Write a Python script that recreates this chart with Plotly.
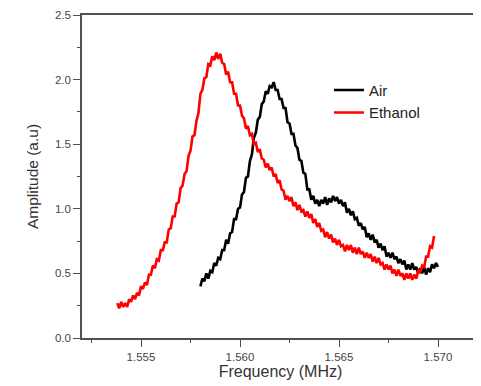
import plotly.graph_objects as go

# Frequency sweep (MHz) and amplitudes
freq_ethanol = [
    1.5538, 1.5539, 1.5540, 1.5541, 1.5542, 1.5543, 1.5544, 1.5545, 1.5546, 1.5547,
    1.5548, 1.5549, 1.5550, 1.5551, 1.5552, 1.5553, 1.5554, 1.5555, 1.5556, 1.5557,
    1.5558, 1.5559, 1.5560, 1.5561, 1.5562, 1.5563, 1.5564, 1.5565, 1.5566, 1.5567,
    1.5568, 1.5569, 1.5570, 1.5571, 1.5572, 1.5573, 1.5574, 1.5575, 1.5576, 1.5577,
    1.5578, 1.5579, 1.5580, 1.5581, 1.5582, 1.5583, 1.5584, 1.5585, 1.5586, 1.5587,
    1.5588, 1.5589, 1.5590, 1.5591, 1.5592, 1.5593, 1.5594, 1.5595, 1.5596, 1.5597,
    1.5598, 1.5599, 1.5600, 1.5601, 1.5602, 1.5603, 1.5604, 1.5605, 1.5606, 1.5607,
    1.5608, 1.5609, 1.5610, 1.5611, 1.5612, 1.5613, 1.5614, 1.5615, 1.5616, 1.5617,
    1.5618, 1.5619, 1.5620, 1.5621, 1.5622, 1.5623, 1.5624, 1.5625, 1.5626, 1.5627,
    1.5628, 1.5629, 1.5630, 1.5631, 1.5632, 1.5633, 1.5634, 1.5635, 1.5636, 1.5637,
    1.5638, 1.5639, 1.5640, 1.5641, 1.5642, 1.5643, 1.5644, 1.5645, 1.5646, 1.5647,
    1.5648, 1.5649, 1.5650, 1.5651, 1.5652, 1.5653, 1.5654, 1.5655, 1.5656, 1.5657,
    1.5658, 1.5659, 1.5660, 1.5661, 1.5662, 1.5663, 1.5664, 1.5665, 1.5666, 1.5667,
    1.5668, 1.5669, 1.5670, 1.5671, 1.5672, 1.5673, 1.5674, 1.5675, 1.5676, 1.5677,
    1.5678, 1.5679, 1.5680, 1.5681, 1.5682, 1.5683, 1.5684, 1.5685, 1.5686, 1.5687,
    1.5688, 1.5689, 1.5690, 1.5691, 1.5692, 1.5693, 1.5694, 1.5695, 1.5696, 1.5697,
    1.5698]
amp_ethanol = [
    0.27, 0.23, 0.28, 0.24, 0.27, 0.24, 0.30, 0.28, 0.33, 0.30,
    0.35, 0.33, 0.40, 0.38, 0.43, 0.41, 0.49, 0.49, 0.56, 0.54,
    0.61, 0.60, 0.68, 0.68, 0.74, 0.74, 0.84, 0.85, 0.94, 0.94,
    1.04, 1.05, 1.16, 1.18, 1.27, 1.29, 1.41, 1.45, 1.56, 1.57,
    1.68, 1.74, 1.89, 1.92, 2.01, 2.02, 2.12, 2.11, 2.18, 2.15,
    2.21, 2.16, 2.20, 2.13, 2.12, 2.04, 2.06, 1.98, 1.98, 1.89,
    1.89, 1.80, 1.80, 1.72, 1.70, 1.62, 1.64, 1.57, 1.58, 1.50,
    1.51, 1.44, 1.46, 1.39, 1.38, 1.32, 1.35, 1.30, 1.32, 1.25,
    1.27, 1.20, 1.22, 1.15, 1.14, 1.07, 1.10, 1.06, 1.09, 1.02,
    1.05, 0.99, 1.03, 0.98, 0.99, 0.94, 0.98, 0.93, 0.96, 0.89,
    0.92, 0.86, 0.89, 0.83, 0.84, 0.78, 0.82, 0.77, 0.80, 0.74,
    0.77, 0.72, 0.76, 0.71, 0.72, 0.67, 0.72, 0.68, 0.72, 0.66,
    0.70, 0.65, 0.70, 0.65, 0.67, 0.62, 0.66, 0.62, 0.65, 0.59,
    0.63, 0.58, 0.62, 0.57, 0.58, 0.53, 0.57, 0.53, 0.56, 0.50,
    0.53, 0.48, 0.53, 0.48, 0.50, 0.45, 0.50, 0.46, 0.50, 0.45,
    0.49, 0.46, 0.52, 0.51, 0.56, 0.55, 0.63, 0.63, 0.71, 0.70,
    0.79]

freq_air = [
    1.5580, 1.5581, 1.5582, 1.5583, 1.5584, 1.5585, 1.5586, 1.5587, 1.5588, 1.5589,
    1.5590, 1.5591, 1.5592, 1.5593, 1.5594, 1.5595, 1.5596, 1.5597, 1.5598, 1.5599,
    1.5600, 1.5601, 1.5602, 1.5603, 1.5604, 1.5605, 1.5606, 1.5607, 1.5608, 1.5609,
    1.5610, 1.5611, 1.5612, 1.5613, 1.5614, 1.5615, 1.5616, 1.5617, 1.5618, 1.5619,
    1.5620, 1.5621, 1.5622, 1.5623, 1.5624, 1.5625, 1.5626, 1.5627, 1.5628, 1.5629,
    1.5630, 1.5631, 1.5632, 1.5633, 1.5634, 1.5635, 1.5636, 1.5637, 1.5638, 1.5639,
    1.5640, 1.5641, 1.5642, 1.5643, 1.5644, 1.5645, 1.5646, 1.5647, 1.5648, 1.5649,
    1.5650, 1.5651, 1.5652, 1.5653, 1.5654, 1.5655, 1.5656, 1.5657, 1.5658, 1.5659,
    1.5660, 1.5661, 1.5662, 1.5663, 1.5664, 1.5665, 1.5666, 1.5667, 1.5668, 1.5669,
    1.5670, 1.5671, 1.5672, 1.5673, 1.5674, 1.5675, 1.5676, 1.5677, 1.5678, 1.5679,
    1.5680, 1.5681, 1.5682, 1.5683, 1.5684, 1.5685, 1.5686, 1.5687, 1.5688, 1.5689,
    1.5690, 1.5691, 1.5692, 1.5693, 1.5694, 1.5695, 1.5696, 1.5697, 1.5698, 1.5699,
    1.5700]
amp_air = [
    0.40, 0.46, 0.44, 0.50, 0.46, 0.52, 0.51, 0.58, 0.56, 0.62,
    0.61, 0.68, 0.68, 0.76, 0.73, 0.81, 0.82, 0.92, 0.92, 1.00,
    1.01, 1.11, 1.13, 1.24, 1.25, 1.37, 1.42, 1.55, 1.59, 1.69,
    1.71, 1.81, 1.83, 1.91, 1.89, 1.95, 1.94, 1.98, 1.92, 1.92,
    1.85, 1.85, 1.78, 1.78, 1.67, 1.66, 1.58, 1.58, 1.49, 1.47,
    1.38, 1.37, 1.28, 1.27, 1.15, 1.15, 1.07, 1.10, 1.04, 1.07,
    1.02, 1.07, 1.04, 1.09, 1.03, 1.08, 1.05, 1.10, 1.06, 1.09,
    1.04, 1.07, 1.02, 1.05, 0.97, 1.00, 0.95, 0.98, 0.92, 0.93,
    0.87, 0.89, 0.84, 0.86, 0.78, 0.81, 0.76, 0.80, 0.74, 0.76,
    0.70, 0.73, 0.68, 0.71, 0.63, 0.66, 0.62, 0.66, 0.61, 0.63,
    0.58, 0.61, 0.57, 0.60, 0.53, 0.57, 0.53, 0.58, 0.53, 0.55,
    0.50, 0.54, 0.50, 0.55, 0.49, 0.54, 0.51, 0.57, 0.54, 0.58,
    0.55]

x_ticks = [1.555, 1.560, 1.565, 1.570]
x_tick_labels = ["1.555", "1.560", "1.565", "1.570"]
y_ticks = [0.0, 0.5, 1.0, 1.5, 2.0, 2.5]
y_tick_labels = ["0.0", "0.5", "1.0", "1.5", "2.0", "2.5"]

FONT = "Liberation Sans, Arial, sans-serif"

fig = go.Figure()
fig.add_trace(go.Scatter(x=freq_air, y=amp_air, mode="lines", name="Air",
                         line=dict(color="black", width=2.6)))
fig.add_trace(go.Scatter(x=freq_ethanol, y=amp_ethanol, mode="lines", name="Ethanol",
                         line=dict(color="#ff0000", width=2.6)))

axis_common = dict(
    showline=True, linecolor="#505050", linewidth=1.5, mirror=True,
    ticks="outside", ticklen=7, tickwidth=1.2, tickcolor="#505050",
    showgrid=False, zeroline=False, automargin=False,
    tickfont=dict(family=FONT, size=11.5, color="#444444"),
)

fig.update_xaxes(
    range=[1.55202, 1.57207], tickvals=x_ticks, ticktext=x_tick_labels,
    title=dict(text="Frequency (MHz)", font=dict(family=FONT, size=16, color="#333333"), standoff=4),
    minor=dict(ticks="outside", ticklen=3, tickcolor="#505050", dtick=0.0025, tick0=1.5525, showgrid=False),
    **axis_common,
)
fig.update_yaxes(
    range=[0, 2.5], tickvals=y_ticks, ticktext=y_tick_labels,
    title=dict(text="Amplitude (a.u)", font=dict(family=FONT, size=15.5, color="#333333"), standoff=13),
    minor=dict(ticks="outside", ticklen=3, tickcolor="#505050", dtick=0.25, tick0=0, showgrid=False),
    **axis_common,
)

# the page body adds an 8px margin, so the figure is sized to fit the window
fig.update_layout(
    width=473, height=378,
    margin=dict(l=74, r=2, t=7, b=48, autoexpand=False),
    paper_bgcolor="white", plot_bgcolor="white",
    showlegend=True,
    legend=dict(x=0.622, y=0.818, xanchor="left", yanchor="top",
                bgcolor="rgba(0,0,0,0)", borderwidth=0,
                font=dict(family=FONT, size=15, color="#222222"),
                tracegroupgap=0),
)

fig.write_html("out.html")
